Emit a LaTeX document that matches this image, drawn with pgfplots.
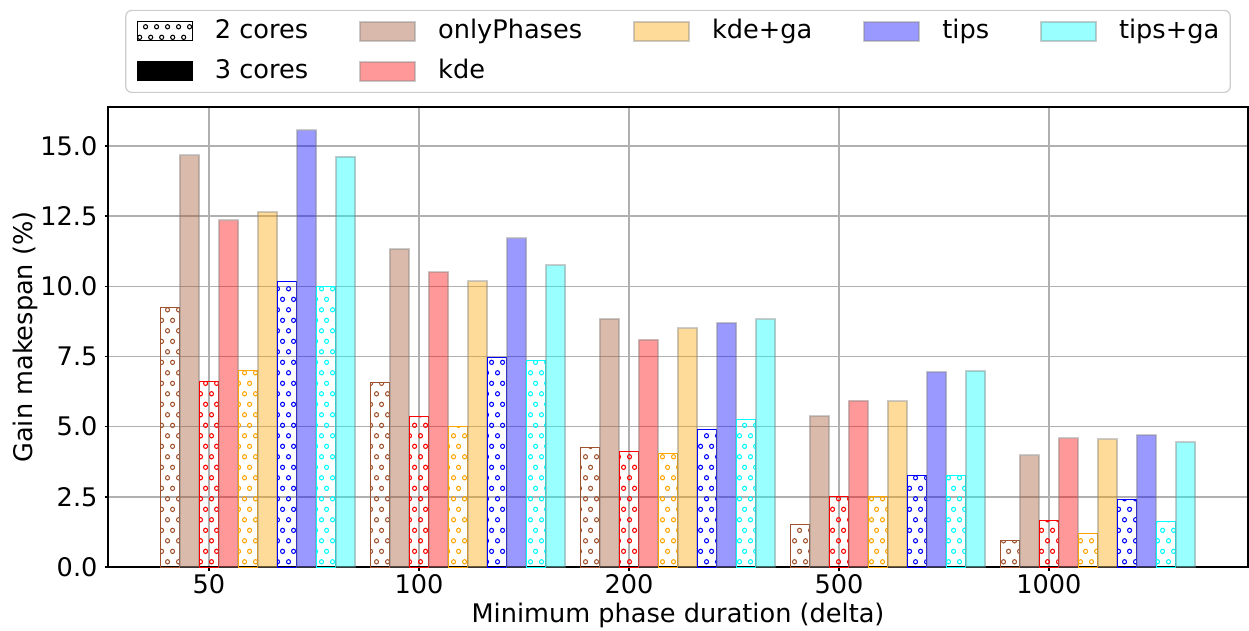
\documentclass[border=0pt]{standalone}
\usepackage{fontspec}
\setmainfont{DejaVu Sans}
\usepackage{pgfplots}
\pgfplotsset{compat=1.18}
\usepackage{pgfplotstable}
\usetikzlibrary{patterns}

\newcommand{\fs}{\fontsize{12.8}{15}\selectfont}

% circle hatch, like matplotlib's 'o'
\pgfdeclarepatternformonly{rings}{\pgfqpoint{0pt}{0pt}}{\pgfqpoint{5.5pt}{10.7pt}}{\pgfqpoint{5.5pt}{10.7pt}}{%
  \pgfsetlinewidth{0.55pt}%
  \pgfpathcircle{\pgfqpoint{1.375pt}{2.675pt}}{1.1pt}%
  \pgfpathcircle{\pgfqpoint{4.125pt}{8.025pt}}{1.1pt}%
  \pgfusepath{stroke}}

\definecolor{sienna}{HTML}{A0522D}
\definecolor{orng}{HTML}{FFA500}
\definecolor{cyn}{rgb}{0,1,1}
\definecolor{blu}{rgb}{0,0,1}
\definecolor{rd}{rgb}{1,0,0}
\definecolor{gridgray}{HTML}{B0B0B0}
\definecolor{edgegray}{HTML}{808080}
\definecolor{legframe}{HTML}{CCCCCC}

\pgfplotsset{
  two/.style={draw=#1, line width=0.5pt, pattern=rings, pattern color=#1},
  three/.style={fill=#1, draw=edgegray, line width=1pt, opacity=0.4},
  boxlegend/.style={legend image code/.code={\draw[##1, sharp corners] (0pt,-4.75pt) rectangle (27.5pt,4.75pt);}},
}

% gain in makespan (%), 2 cores / 3 cores per method
\pgfplotstableread{
x op2  op3   kd2  kd3   kg2  kg3   tp2   tp3   tg2  tg3
0 9.25 14.67 6.61 12.35 7.01 12.64 10.18 15.56 9.99 14.62
1 6.58 11.33 5.37 10.51 4.99 10.18 7.46  11.71 7.36 10.75
2 4.27 8.84  4.12 8.10  4.03 8.50  4.90  8.70  5.27 8.82
3 1.50 5.38  2.50 5.93  2.50 5.90  3.25  6.95  3.25 6.98
4 0.94 3.98  1.67 4.58  1.18 4.55  2.42  4.70  1.63 4.44
}\data

\begin{document}
\begin{tikzpicture}
\begin{axis}[
  name=ax, scale only axis, width=570pt, height=230pt,
  ybar, bar width=0.0929,
  xmin=-0.481, xmax=4.948, ymin=0, ymax=16.39,
  xtick={0,1,2,3,4}, xticklabels={50,100,200,500,1000},
  ytick={0,2.5,5,7.5,10,12.5,15},
  yticklabel style={/pgf/number format/.cd, fixed, fixed zerofill, precision=1},
  xticklabel style={yshift=1.5pt},
  /pgf/number format/assume math mode=true,
  grid=major, major grid style={gridgray, line width=0.8pt},
  axis line style={black, line width=0.8pt},
  tick align=outside, major tick length=1.75pt, xtick pos=bottom, ytick pos=left,
  tick style={black, line width=0.8pt},
  ticklabel style={font=\fs},
  xlabel={Minimum phase duration (delta)}, ylabel={Gain makespan (\%)},
  every axis x label/.style={at={(axis description cs:0.5,-0.1196)}, anchor=base, font=\fs},
  every axis y label/.style={at={(axis description cs:-0.0728,0.5)}, rotate=90, anchor=center, font=\fs},
  legend columns=5, legend cell align=left,
  legend style={at={(0.5,1)}, anchor=south, yshift=7pt, font=\fs,
    draw=legframe, rounded corners=3pt, line width=0.6pt,
    inner xsep=5.5pt, inner ysep=3.5pt, row sep=6pt,
    nodes={inner xsep=0pt, inner ysep=1pt, text height=9.5pt, text depth=2.5pt},
    /tikz/every odd column/.append style={column sep=11pt},
    /tikz/every even column/.append style={column sep=25.5pt}},
]
\addlegendimage{boxlegend, pattern=rings, pattern color=black, draw=black, line width=0.5pt}
\addlegendentry{2 cores}
\addlegendimage{boxlegend, three=sienna}
\addlegendentry{onlyPhases}
\addlegendimage{boxlegend, three=orng}
\addlegendentry{kde+ga}
\addlegendimage{boxlegend, three=blu}
\addlegendentry{tips}
\addlegendimage{boxlegend, three=cyn}
\addlegendentry{tips+ga}
\addlegendimage{boxlegend, fill=black, draw=black}
\addlegendentry{3 cores}
\addlegendimage{boxlegend, three=rd}
\addlegendentry{kde}

\addplot[two=sienna, bar shift=-0.1858, forget plot] table[x=x, y=op2]{\data};
\addplot[three=sienna, bar shift=-0.0929, forget plot] table[x=x, y=op3]{\data};
\addplot[two=rd, bar shift=0, forget plot] table[x=x, y=kd2]{\data};
\addplot[three=rd, bar shift=0.0929, forget plot] table[x=x, y=kd3]{\data};
\addplot[two=orng, bar shift=0.1858, forget plot] table[x=x, y=kg2]{\data};
\addplot[three=orng, bar shift=0.2787, forget plot] table[x=x, y=kg3]{\data};
\addplot[two=blu, bar shift=0.3716, forget plot] table[x=x, y=tp2]{\data};
\addplot[three=blu, bar shift=0.4645, forget plot] table[x=x, y=tp3]{\data};
\addplot[two=cyn, bar shift=0.5574, forget plot] table[x=x, y=tg2]{\data};
\addplot[three=cyn, bar shift=0.6503, forget plot] table[x=x, y=tg3]{\data};
\end{axis}
\pgfresetboundingbox
\path ([shift={(-54pt,-31.5pt)}]ax.south west) rectangle ([shift={(0.5pt,53.5pt)}]ax.north east);
\end{tikzpicture}
\end{document}
